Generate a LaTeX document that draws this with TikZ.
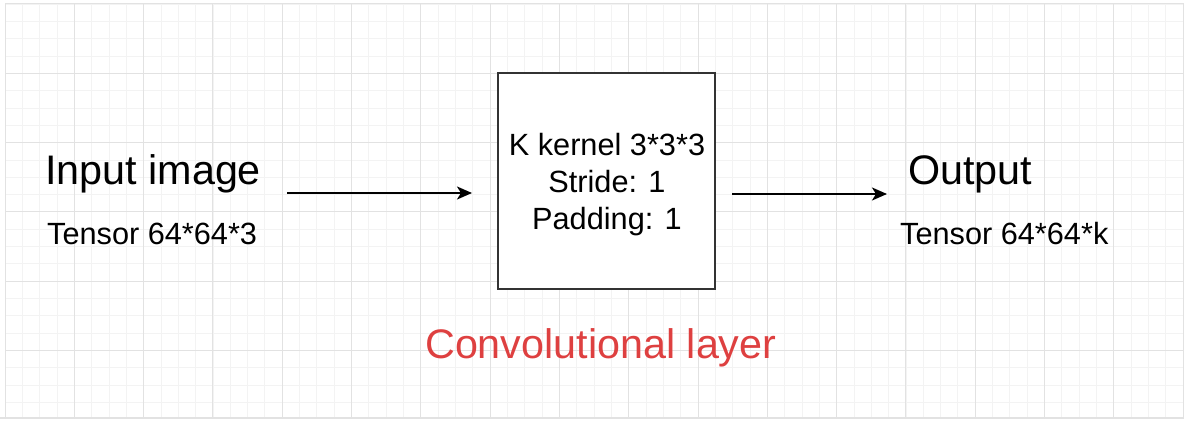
\documentclass[tikz,border=0pt]{standalone}
\usepackage{fontspec}
\setmainfont{Liberation Sans}
\usetikzlibrary{arrows.meta}
\definecolor{rosso}{RGB}{222,64,64}
\definecolor{grigliamin}{RGB}{243,243,243}
\definecolor{grigliamag}{RGB}{226,226,226}
\definecolor{bordo}{RGB}{51,51,51}
\newcommand{\grande}{\fontsize{41.3}{48}\selectfont}
\newcommand{\medio}{\fontsize{30.7}{37}\selectfont}

\begin{document}
\begin{tikzpicture}[x = 1pt, y = -1pt,
    testo/.style = {inner sep = 0pt, anchor = base west},
    freccia/.style = {line width = 2pt, -{Stealth[length = 15pt, width = 13pt, inset = 4pt]}},
    blocco/.style = {draw = bordo, line width = 1.5pt, fill = white, minimum width = 217pt, minimum height = 216pt}]
    % Parametri
    \pgfmathsetmacro{\passo}{17.325}
    \pgfmathsetmacro{\passomag}{69.3}
    \useasboundingbox (0,0) rectangle (1184,422);
    % Griglia
    \foreach \i in {0,...,68}
        \draw[grigliamin, line width = 0.8pt] ({5+\i*\passo},4) -- ({5+\i*\passo},418);
    \foreach \j in {0,...,23}
        \draw[grigliamin, line width = 0.8pt] (5,{4+\j*\passo}) -- (1184,{4+\j*\passo});
    \foreach \i in {0,...,17}
        \draw[grigliamag, line width = 1pt] ({5+\i*\passomag},4) -- ({5+\i*\passomag},418);
    \foreach \j in {0,...,5}
        \draw[grigliamag, line width = 1pt] (5,{4+\j*\passomag}) -- (1184,{4+\j*\passomag});
    \draw[grigliamag, line width = 1.5pt] (0,418) -- (1184,418);
    % Blocco
    \node[blocco] (conv) at (606.5,181) {};
    \node[align = center, inner sep = 0pt, font = \medio] (param) at (607,185) {K kernel 3*3*3\\Stride: 1\\Padding: 1};
    \node[testo, font = \grande, text = rosso] (nome) at (425,358) {Convolutional layer};
    % Ingresso e uscita
    \node[testo, font = \grande] (input) at (45,185) {Input image};
    \node[testo, font = \medio] (tensin) at (47,245) {Tensor 64*64*3};
    \node[testo, font = \grande] (output) at (908,185) {Output};
    \node[testo, font = \medio] (tensout) at (900,245) {Tensor 64*64*k};
    % Frecce
    \coordinate (a1) at (287,193);
    \coordinate (b1) at (472,193);
    \coordinate (a2) at (732,194);
    \coordinate (b2) at (887,194);
    \draw[freccia] (a1) -- (b1);
    \draw[freccia] (a2) -- (b2);
\end{tikzpicture}
\end{document}
